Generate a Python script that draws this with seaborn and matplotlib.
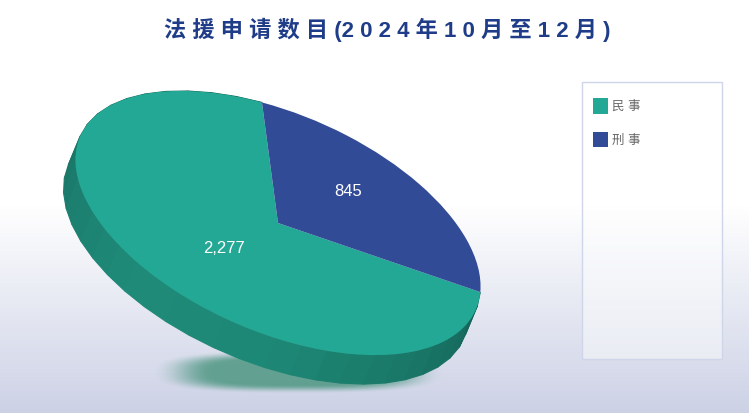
import numpy as np
import seaborn as sns
import matplotlib.pyplot as plt
from matplotlib.patches import Polygon, Rectangle
from matplotlib.transforms import Affine2D

categories = ["民 事", "刑 事"]
values = [2277, 845]
value_labels = ["2,277", "845"]
colors = ["#24a896", "#324b97"]
title = "法 援 申 请 数 目 (2 0 2 4 年 1 0 月 至 1 2 月 )"

sns.set_theme(style="white")
plt.rcParams['font.family'] = ['Liberation Sans', 'Noto Sans CJK SC', 'DejaVu Sans']

fig = plt.figure(figsize=(7.49, 4.13), dpi=100)
ax = fig.add_axes([0, 0, 1, 1])

# pie lives in a unit circle, this squashes and tilts it onto pixel coords
tilt = Affine2D().scale(216, 108.7).rotate_deg(-23.7).scale(1, -1).translate(278, 223)
start = 107
depth = (-12, 29)

wedges, _ = ax.pie(values, colors=colors, startangle=start, counterclock=True, radius=1,
                   wedgeprops=dict(linewidth=0))
for w in wedges:
    w.set_transform(tilt + ax.transData)
    w.set_zorder(5)
ax.set_aspect("auto")
ax.set_xlim(0, 749)
ax.set_ylim(413, 0)
ax.axis("off")

# background fades to pale blue
bg = np.ones((413, 1, 3))
top, bottom = np.array([1, 1, 1.0]), np.array([0.80, 0.82, 0.90])
fade = np.clip((np.arange(413) - 205) / 208, 0, 1)
bg[:, 0, :] = top + (bottom - top) * fade[:, None]
ax.imshow(bg, extent=(0, 749, 413, 0), aspect="auto", zorder=0)

# soft shadow under the pie
xx, yy = np.meshgrid(np.linspace(130, 470, 340), np.linspace(340, 405, 65))
dist = (np.abs((xx - 298) / 146) ** 3 + np.abs((yy - 372) / 22) ** 3) ** (1 / 3)
soft = np.clip((1.0 - dist) / 0.42, 0, 1)
shadow = np.zeros(xx.shape + (4,))
shadow[..., :3] = (0.24, 0.56, 0.46)
shadow[..., 3] = soft * soft * (3 - 2 * soft) * 0.76
ax.imshow(shadow, extent=(130, 470, 405, 340), aspect="auto", zorder=1)
ax.set_xlim(0, 749)
ax.set_ylim(413, 0)

# side wall of the green slice, built from the same tilted circle
sweep = 360 * values[0] / sum(values)
n_facets = 36
edges = np.radians(np.linspace(start, start + sweep, n_facets + 1))
shades = sns.blend_palette(["#14604f", "#176a5b", "#1b7b6c", "#1f8a78", "#1e8876", "#1a7868", "#15665a"],
                           n_colors=n_facets)
for i in range(n_facets):
    a = np.array([[np.cos(edges[i]), np.sin(edges[i])], [np.cos(edges[i + 1]), np.sin(edges[i + 1])]])
    upper = tilt.transform(a)
    lower = upper + np.array(depth)
    ax.add_patch(Polygon(np.vstack([upper, lower[::-1]]), closed=True, facecolor=shades[i],
                         edgecolor=shades[i], linewidth=0.8, zorder=3))

ax.text(224, 248.5, value_labels[0], color="white", fontsize=12, ha="center", va="center", zorder=6)
ax.text(348.5, 192, value_labels[1], color="white", fontsize=12, ha="center", va="center", zorder=6)

# legend panel
ax.add_patch(Rectangle((582, 82), 140, 277, facecolor="white", alpha=0.45, edgecolor="none", zorder=2))
ax.add_patch(Rectangle((582, 82), 140, 277, facecolor="none", edgecolor="#cfd6ea", linewidth=1, zorder=2))
leg = ax.legend(wedges, categories, loc="upper left", bbox_to_anchor=(590 / 749, 1 - 96 / 413),
                bbox_transform=fig.transFigure, frameon=False, fontsize=9, handlelength=1.2,
                handleheight=1.47, handletextpad=0.35, labelspacing=1.5, borderpad=0.2, borderaxespad=0,
                labelcolor="#666666")

ax.text(387.5, 30, title, color="#1f3c88", fontsize=16, fontweight="bold", ha="center", va="center", zorder=6)

plt.savefig("out.png", dpi=100)
